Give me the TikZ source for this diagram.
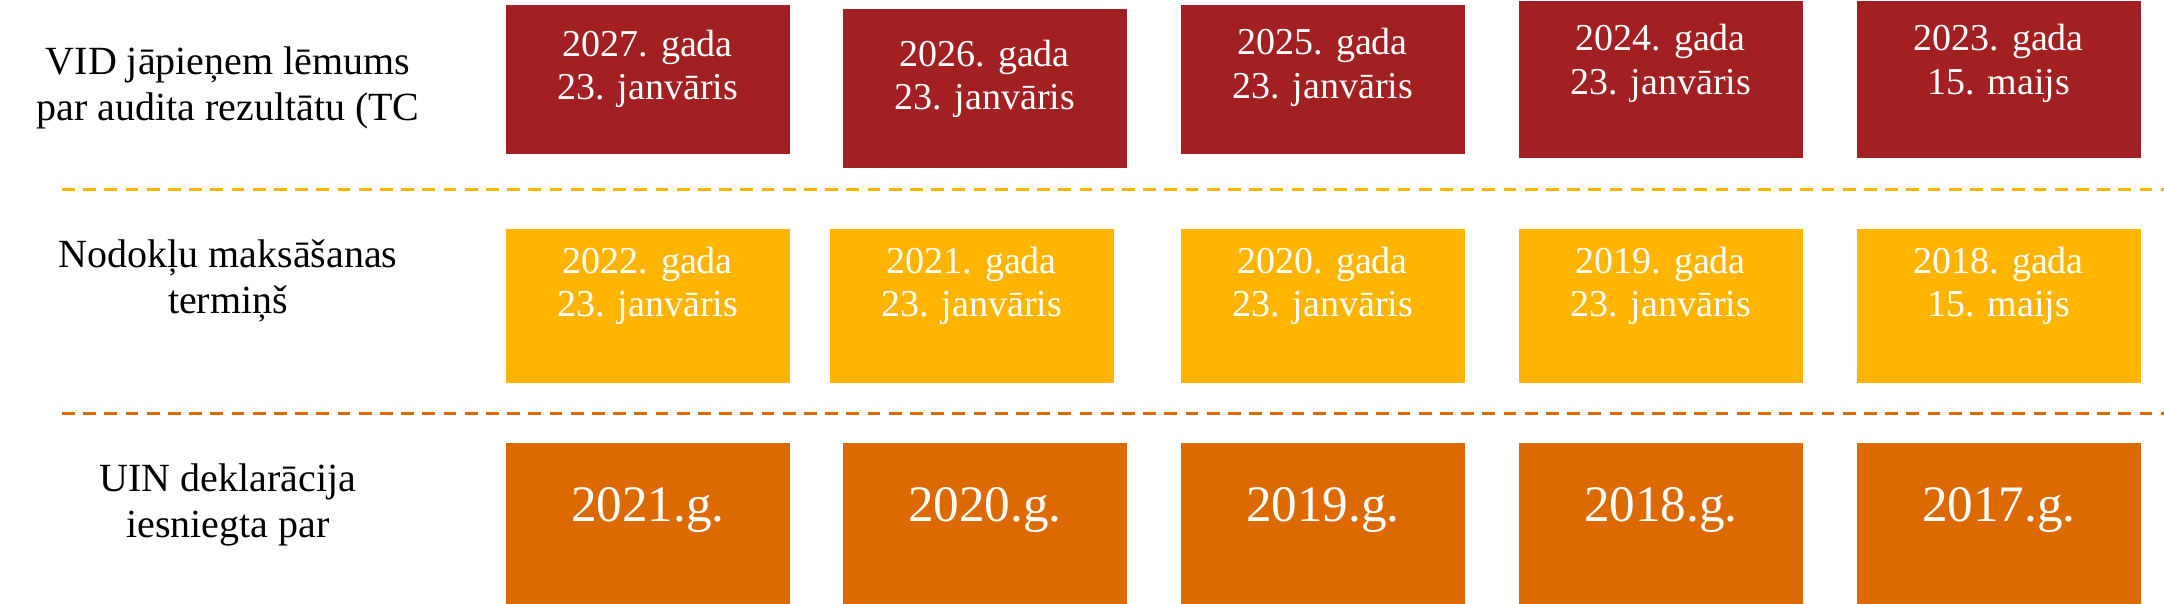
\documentclass[tikz,border=0pt]{standalone}
\usepackage{fontspec}
\setmainfont{Liberation Serif}
\usepackage{xcolor}
\usepackage{tikz}
\usetikzlibrary{calc,positioning}
\definecolor{vidRed}{HTML}{A21F22}
\definecolor{vidGold}{HTML}{FFB500}
\definecolor{vidOrange}{HTML}{DC6A00}
\tikzset{
  vidbox/.style={rectangle,anchor=north west,inner sep=0pt,
                 minimum width=71pt},
  vidred/.style={vidbox,fill=vidRed,minimum height=37.25pt},
  vidgold/.style={vidbox,fill=vidGold,minimum height=38.5pt},
  vidorange/.style={vidbox,fill=vidOrange,minimum height=40.25pt},
  vidtext/.style={text=white,align=center,inner sep=0pt,
                  font=\fontsize{9.5}{10.8}\selectfont},
  vidyear/.style={vidtext,font=\fontsize{12.8}{14}\selectfont},
  vidlabel/.style={align=center,inner sep=0pt,
                   font=\fontsize{10}{11.4}\selectfont},
  vidrule/.style={line width=0.75pt,dash pattern=on 3.2pt off 2.1pt}
}
\begin{document}
\begin{tikzpicture}[x=0.25pt,y=-0.25pt]
    \useasboundingbox (0,0) rectangle (2164,603);

    % row labels
    \node[vidlabel] (lvid) at (228,88) {VID jāpieņem lēmums\\par audita rezultātu (TC};
    \node[vidlabel] (lterm) at (228,281) {Nodokļu maksāšanas\\termiņš};
    \node[vidlabel] (luin) at (228,505) {UIN deklarācija\\iesniegta par};

    % lemums
    \node[vidred] (a1) at (505,4) {};
    \node[vidred,minimum height=39.75pt] (a2) at (842,8) {};
    \node[vidred] (a3) at (1180,4) {};
    \node[vidred,minimum height=39.25pt] (a4) at (1518,0) {};
    \node[vidred,minimum height=39.25pt] (a5) at (1856,0) {};
    \node[vidtext] (ta1) at ($(a1.north)!0.43!(a1.south)$) {2027. gada\\23. janvāris};
    \node[vidtext] (ta2) at ($(a2.north)!0.44!(a2.south)$) {2026. gada\\23. janvāris};
    \node[vidtext] (ta3) at ($(a3.north)!0.42!(a3.south)$) {2025. gada\\23. janvāris};
    \node[vidtext] (ta4) at ($(a4.north)!0.4!(a4.south)$) {2024. gada\\23. janvāris};
    \node[vidtext] (ta5) at ($(a5.north)!0.4!(a5.south)$) {2023. gada\\15. maijs};

    \draw[vidrule,vidGold] (62,189) -- (2164,189);

    % termins
    \node[vidgold] (b1) at (505,228) {};
    \node[vidgold] (b2) at (829,228) {};
    \node[vidgold] (b3) at (1180,228) {};
    \node[vidgold] (b4) at (1518,228) {};
    \node[vidgold] (b5) at (1856,228) {};
    \node[vidtext] (tb1) at ($(b1.north)!0.37!(b1.south)$) {2022. gada\\23. janvāris};
    \node[vidtext] (tb2) at ($(b2.north)!0.37!(b2.south)$) {2021. gada\\23. janvāris};
    \node[vidtext] (tb3) at ($(b3.north)!0.37!(b3.south)$) {2020. gada\\23. janvāris};
    \node[vidtext] (tb4) at ($(b4.north)!0.37!(b4.south)$) {2019. gada\\23. janvāris};
    \node[vidtext] (tb5) at ($(b5.north)!0.37!(b5.south)$) {2018. gada\\15. maijs};

    \draw[vidrule,vidOrange] (62,413) -- (2164,413);

    % deklaracija
    \node[vidorange] (c1) at (505,442) {};
    \node[vidorange] (c2) at (842,442) {};
    \node[vidorange] (c3) at (1180,442) {};
    \node[vidorange] (c4) at (1518,442) {};
    \node[vidorange] (c5) at (1856,442) {};
    \node[vidyear] (tc1) at ($(c1.north)!0.42!(c1.south)$) {2021.g.};
    \node[vidyear] (tc2) at ($(c2.north)!0.42!(c2.south)$) {2020.g.};
    \node[vidyear] (tc3) at ($(c3.north)!0.42!(c3.south)$) {2019.g.};
    \node[vidyear] (tc4) at ($(c4.north)!0.42!(c4.south)$) {2018.g.};
    \node[vidyear] (tc5) at ($(c5.north)!0.42!(c5.south)$) {2017.g.};
\end{tikzpicture}
\end{document}
